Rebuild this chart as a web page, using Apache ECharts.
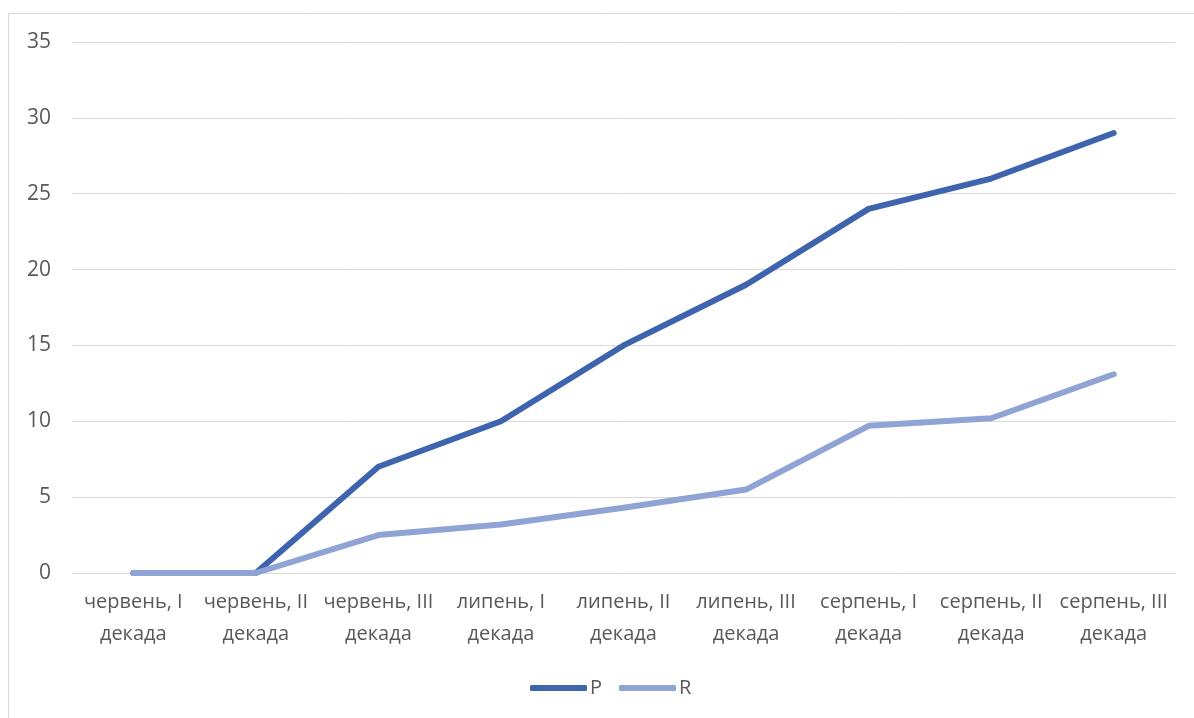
<!DOCTYPE html>
<html>
<head>
<meta charset="utf-8">
<script src="https://cdn.jsdelivr.net/npm/echarts@6/dist/echarts.min.js"></script>
<style>
  html, body { margin: 0; padding: 0; background: #fff; }
  #chart { width: 1194px; height: 718px; }
</style>
</head>
<body>
<div id="chart"></div>
<script>
// Ten-day periods (декади) of June–August
const categories = [
  'червень, I\nдекада', 'червень, II\nдекада', 'червень, III\nдекада',
  'липень, I\nдекада', 'липень, II\nдекада', 'липень, III\nдекада',
  'серпень, I\nдекада', 'серпень, II\nдекада', 'серпень, III\nдекада'
];
const seriesP = [0, 0, 7, 10, 15, 19, 24, 26, 29];
const seriesR = [0, 0, 2.5, 3.2, 4.3, 5.5, 9.7, 10.2, 13.1];
const yTicks = [0, 5, 10, 15, 20, 25, 30, 35];

const colorP = '#3f64ae';
const colorR = '#8fa3d5';
const textColor = '#595959';
const fontFamily = '"Open Sans", "Noto Sans", sans-serif';

const chart = echarts.init(document.getElementById('chart'), null, { renderer: 'canvas' });

chart.setOption({
  animation: false,
  backgroundColor: '#fff',
  textStyle: { fontFamily: fontFamily },
  graphic: [{
    type: 'rect',
    shape: { x: 8.5, y: 13.5, width: 1200, height: 720 },
    style: { fill: 'none', stroke: '#d9d9d9', lineWidth: 1 },
    silent: true
  }],
  grid: { left: 72, right: 19, top: 42, bottom: 145, containLabel: false },
  legend: {
    bottom: 15,
    left: 525,
    icon: 'roundRect',
    itemWidth: 57,
    itemHeight: 6,
    itemGap: 17,
    textStyle: { color: textColor, fontSize: 20, fontFamily: fontFamily, padding: [0, 0, 0, -2] },
    data: ['P', 'R']
  },
  xAxis: {
    type: 'category',
    data: categories,
    boundaryGap: true,
    axisLine: { show: true, lineStyle: { color: '#d9d9d9', width: 1 } },
    axisTick: { show: false },
    axisLabel: {
      color: textColor, fontSize: 20, lineHeight: 32, margin: 13,
      fontFamily: fontFamily, interval: 0
    }
  },
  yAxis: {
    type: 'value',
    min: yTicks[0],
    max: yTicks[yTicks.length - 1],
    interval: 5,
    axisLine: { show: false },
    axisTick: { show: false },
    splitLine: { lineStyle: { color: '#d9d9d9', width: 1 } },
    axisLabel: { color: textColor, fontSize: 21, margin: 21, fontFamily: fontFamily }
  },
  series: [
    {
      name: 'P', type: 'line', data: seriesP,
      showSymbol: false, symbol: 'none',
      lineStyle: { color: colorP, width: 6, cap: 'round', join: 'round' },
      itemStyle: { color: colorP }
    },
    {
      name: 'R', type: 'line', data: seriesR,
      showSymbol: false, symbol: 'none',
      lineStyle: { color: colorR, width: 6, cap: 'round', join: 'round' },
      itemStyle: { color: colorR }
    }
  ]
});
</script>
</body>
</html>
